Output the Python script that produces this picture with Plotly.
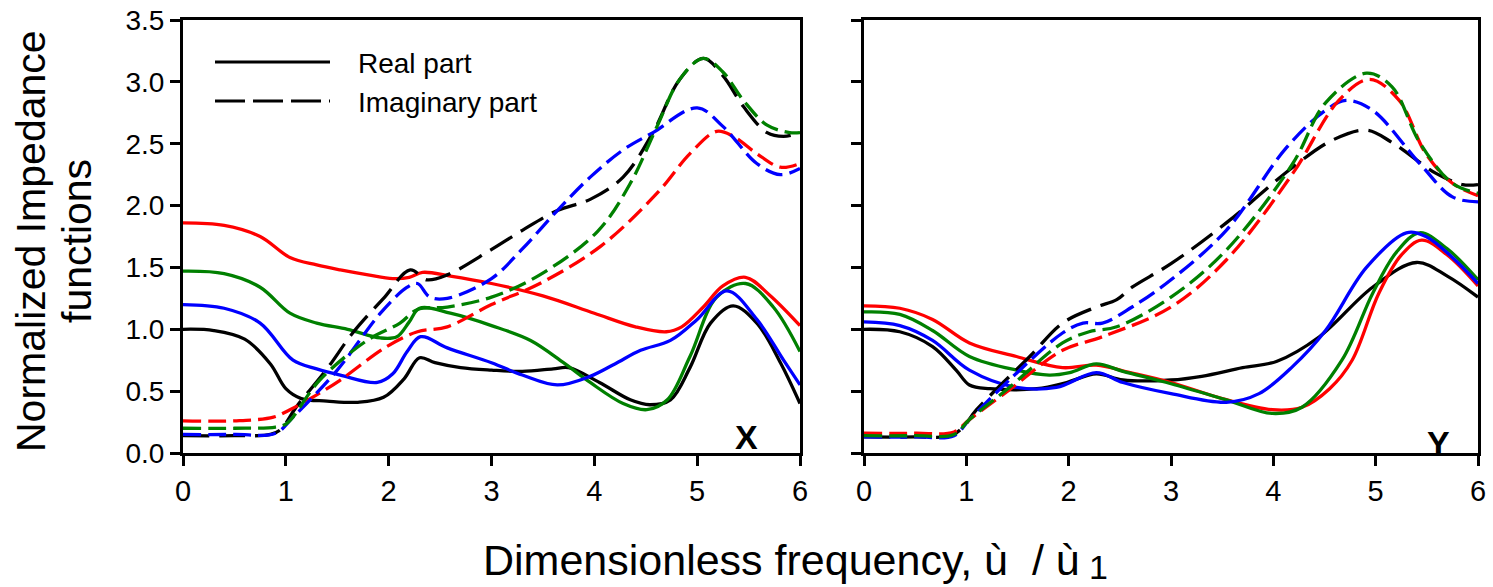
import plotly.graph_objects as go

# ---------------- data: panel X ----------------
x_real_black_X = [0, 0.3, 0.6, 0.85, 1.0, 1.15, 1.4, 1.7, 1.95, 2.15, 2.3, 2.45, 2.7, 3.0, 3.3, 3.6, 3.75, 4.05, 4.35, 4.54, 4.74, 4.93, 5.13, 5.35, 5.58, 5.81, 6.0]
y_real_black_X = [1.00, 0.99, 0.92, 0.72, 0.52, 0.44, 0.42, 0.41, 0.45, 0.60, 0.77, 0.73, 0.69, 0.67, 0.66, 0.68, 0.69, 0.57, 0.43, 0.39, 0.43, 0.69, 1.05, 1.19, 1.05, 0.73, 0.40]

x_real_red_X = [0, 0.4, 0.75, 1.04, 1.3, 1.53, 1.8, 2.04, 2.2, 2.33, 2.6, 3.0, 3.5, 4.0, 4.4, 4.7, 4.85, 5.06, 5.25, 5.47, 5.7, 6.0]
y_real_red_X = [1.86, 1.84, 1.75, 1.58, 1.52, 1.48, 1.44, 1.41, 1.42, 1.46, 1.43, 1.37, 1.27, 1.13, 1.02, 0.98, 1.02, 1.18, 1.35, 1.42, 1.28, 1.03]

x_real_green_X = [0, 0.4, 0.75, 1.04, 1.3, 1.6, 1.92, 2.08, 2.2, 2.3, 2.6, 3.0, 3.38, 3.7, 3.96, 4.28, 4.51, 4.71, 4.93, 5.19, 5.47, 5.74, 6.0]
y_real_green_X = [1.47, 1.45, 1.34, 1.13, 1.05, 1.00, 0.93, 0.94, 1.06, 1.17, 1.13, 1.03, 0.91, 0.73, 0.57, 0.40, 0.35, 0.43, 0.78, 1.26, 1.37, 1.18, 0.82]

x_real_blue_X = [0, 0.4, 0.75, 1.07, 1.3, 1.53, 1.89, 2.04, 2.18, 2.31, 2.57, 3.0, 3.3, 3.64, 3.96, 4.2, 4.45, 4.74, 5.0, 5.29, 5.58, 5.84, 6.0]
y_real_blue_X = [1.20, 1.17, 1.05, 0.75, 0.68, 0.63, 0.57, 0.64, 0.82, 0.94, 0.85, 0.73, 0.63, 0.55, 0.62, 0.72, 0.83, 0.91, 1.08, 1.31, 1.08, 0.75, 0.55]

x_imag_black_X = [0, 0.5, 0.85, 0.95, 1.1, 1.4, 1.65, 1.95, 2.21, 2.37, 2.57, 2.99, 3.3, 3.64, 3.96, 4.28, 4.57, 4.83, 5.06, 5.25, 5.45, 5.68, 5.84, 6.0]
y_imag_black_X = [0.14, 0.14, 0.15, 0.19, 0.37, 0.68, 0.97, 1.25, 1.48, 1.40, 1.44, 1.64, 1.80, 1.96, 2.05, 2.23, 2.59, 3.02, 3.19, 3.05, 2.80, 2.59, 2.56, 2.59]

x_imag_red_X = [0, 0.5, 0.88, 1.04, 1.3, 1.53, 1.98, 2.28, 2.57, 3.0, 3.47, 4.06, 4.61, 4.93, 5.19, 5.35, 5.58, 5.81, 6.0]
y_imag_red_X = [0.26, 0.26, 0.29, 0.35, 0.47, 0.59, 0.86, 0.98, 1.02, 1.20, 1.37, 1.67, 2.10, 2.42, 2.60, 2.56, 2.42, 2.31, 2.34]

x_imag_green_X = [0, 0.5, 0.9, 1.01, 1.33, 1.79, 2.11, 2.28, 2.57, 3.0, 3.47, 4.03, 4.35, 4.61, 4.83, 5.06, 5.25, 5.45, 5.68, 5.9, 6.0]
y_imag_green_X = [0.20, 0.20, 0.21, 0.24, 0.59, 0.91, 1.05, 1.16, 1.18, 1.26, 1.44, 1.79, 2.18, 2.64, 3.02, 3.19, 3.08, 2.85, 2.65, 2.59, 2.59]

x_imag_blue_X = [0, 0.5, 0.9, 1.07, 1.5, 1.92, 2.18, 2.28, 2.4, 2.57, 3.0, 3.3, 3.64, 3.96, 4.28, 4.57, 5.0, 5.25, 5.58, 5.81, 6.0]
y_imag_blue_X = [0.15, 0.15, 0.16, 0.29, 0.67, 1.13, 1.34, 1.37, 1.26, 1.25, 1.41, 1.65, 1.96, 2.23, 2.45, 2.59, 2.79, 2.64, 2.34, 2.25, 2.30]

# ---------------- data: panel Y ----------------
x_real_black_Y = [0, 0.35, 0.67, 0.9, 1.03, 1.23, 1.69, 1.98, 2.27, 2.53, 3.0, 3.3, 3.7, 4.03, 4.45, 4.97, 5.4, 5.7, 6.0]
y_real_black_Y = [1.00, 0.98, 0.86, 0.67, 0.55, 0.52, 0.52, 0.57, 0.64, 0.59, 0.59, 0.62, 0.69, 0.74, 0.94, 1.34, 1.54, 1.43, 1.26]

x_real_red_Y = [0, 0.35, 0.67, 1.03, 1.49, 1.94, 2.27, 2.6, 3.0, 3.5, 3.99, 4.28, 4.55, 4.77, 5.03, 5.25, 5.45, 5.7, 6.0]
y_real_red_Y = [1.19, 1.17, 1.08, 0.89, 0.78, 0.69, 0.71, 0.65, 0.57, 0.44, 0.35, 0.37, 0.52, 0.75, 1.29, 1.60, 1.72, 1.60, 1.35]

x_real_green_Y = [0, 0.35, 0.67, 1.03, 1.49, 1.81, 2.01, 2.27, 2.53, 3.0, 3.54, 3.99, 4.28, 4.67, 4.97, 5.2, 5.43, 5.7, 6.0]
y_real_green_Y = [1.14, 1.12, 0.99, 0.78, 0.67, 0.63, 0.65, 0.72, 0.66, 0.56, 0.43, 0.32, 0.37, 0.75, 1.29, 1.62, 1.78, 1.65, 1.40]

x_real_blue_Y = [0, 0.35, 0.67, 1.03, 1.49, 1.88, 2.27, 2.53, 3.0, 3.54, 3.86, 4.19, 4.51, 4.91, 5.3, 5.49, 5.75, 6.0]
y_real_blue_Y = [1.06, 1.03, 0.91, 0.67, 0.53, 0.53, 0.65, 0.57, 0.48, 0.41, 0.48, 0.70, 0.99, 1.50, 1.78, 1.75, 1.58, 1.37]

x_imag_black_Y = [0, 0.5, 0.85, 0.97, 1.1, 1.62, 1.94, 2.27, 2.47, 2.62, 3.0, 3.54, 4.19, 4.58, 4.91, 5.16, 5.59, 5.85, 6.0]
y_imag_black_Y = [0.13, 0.13, 0.14, 0.21, 0.35, 0.78, 1.05, 1.18, 1.24, 1.34, 1.53, 1.86, 2.31, 2.53, 2.61, 2.51, 2.26, 2.17, 2.17]

x_imag_red_Y = [0, 0.5, 0.88, 1.03, 1.42, 1.94, 2.33, 3.0, 3.54, 4.19, 4.64, 4.94, 5.23, 5.49, 5.75, 6.0]
y_imag_red_Y = [0.16, 0.16, 0.17, 0.27, 0.51, 0.83, 0.94, 1.18, 1.56, 2.26, 2.85, 3.02, 2.85, 2.42, 2.18, 2.08]

x_imag_green_Y = [0, 0.5, 0.88, 1.03, 1.42, 1.94, 2.2, 2.47, 3.0, 3.54, 4.19, 4.51, 4.91, 5.16, 5.43, 5.75, 6.0]
y_imag_green_Y = [0.14, 0.14, 0.15, 0.27, 0.53, 0.89, 0.98, 1.02, 1.26, 1.64, 2.34, 2.83, 3.07, 2.96, 2.51, 2.18, 2.10]

x_imag_blue_Y = [0, 0.5, 0.88, 1.03, 1.42, 1.94, 2.14, 2.33, 2.62, 3.0, 3.54, 4.13, 4.51, 4.71, 4.97, 5.43, 5.75, 6.0]
y_imag_blue_Y = [0.13, 0.13, 0.14, 0.27, 0.59, 0.97, 1.05, 1.05, 1.18, 1.40, 1.80, 2.47, 2.77, 2.85, 2.77, 2.34, 2.07, 2.03]

x_ticks = [0, 1, 2, 3, 4, 5, 6]
y_ticks = [0.0, 0.5, 1.0, 1.5, 2.0, 2.5, 3.0, 3.5]
legend_labels = ["Real part", "Imaginary part"]

COL = {"black": "#000000", "red": "#FF0000", "green": "#008000", "blue": "#0000FF"}
FONT = "Liberation Sans, Arial, sans-serif"

fig = go.Figure()

def add(xs, ys, color, dashed, ax):
    dash = "solid"
    if dashed:
        dash = "26px,10px" if color == "black" else "18px,7px"
    fig.add_trace(go.Scatter(
        x=xs, y=ys, mode="lines", showlegend=False,
        line=dict(color=COL[color], width=3.3, dash=dash, shape="spline", smoothing=1.0),
        xaxis="x" if ax == 1 else "x2", yaxis="y" if ax == 1 else "y2",
        hoverinfo="skip"))

# panel X
add(x_real_black_X, y_real_black_X, "black", False, 1)
add(x_real_red_X, y_real_red_X, "red", False, 1)
add(x_real_green_X, y_real_green_X, "green", False, 1)
add(x_real_blue_X, y_real_blue_X, "blue", False, 1)
add(x_imag_black_X, y_imag_black_X, "black", True, 1)
add(x_imag_red_X, y_imag_red_X, "red", True, 1)
add(x_imag_blue_X, y_imag_blue_X, "blue", True, 1)
add(x_imag_green_X, y_imag_green_X, "green", True, 1)
# panel Y
add(x_real_black_Y, y_real_black_Y, "black", False, 2)
add(x_real_red_Y, y_real_red_Y, "red", False, 2)
add(x_real_green_Y, y_real_green_Y, "green", False, 2)
add(x_real_blue_Y, y_real_blue_Y, "blue", False, 2)
add(x_imag_black_Y, y_imag_black_Y, "black", True, 2)
add(x_imag_blue_Y, y_imag_blue_Y, "blue", True, 2)
add(x_imag_red_Y, y_imag_red_Y, "red", True, 2)
add(x_imag_green_Y, y_imag_green_Y, "green", True, 2)

W, H = 1493, 587
def px_x(p): return p / W
def px_y(p): return 1 - p / H

xaxis_common = dict(range=[0, 6], tickvals=x_ticks, ticks="outside", ticklen=10, tickwidth=3,
                    tickcolor="black", showline=True, linewidth=3, linecolor="black", mirror=True,
                    showgrid=False, zeroline=False, tickfont=dict(family=FONT, size=29, color="black"),
                    automargin=False)
yaxis_common = dict(range=[0, 3.5], tickvals=y_ticks, tickformat=".1f", ticks="outside", ticklen=10,
                    tickwidth=3, tickcolor="black", showline=True, linewidth=3, linecolor="black",
                    mirror=True, showgrid=False, zeroline=False,
                    tickfont=dict(family=FONT, size=28, color="black"), automargin=False)

fig.update_layout(
    width=W, height=H,
    margin=dict(l=0, r=0, t=0, b=0),
    plot_bgcolor="white", paper_bgcolor="white",
    xaxis=dict(domain=[px_x(183), px_x(800)], anchor="y", **xaxis_common),
    yaxis=dict(domain=[px_y(453), px_y(20)], anchor="x", **yaxis_common),
    xaxis2=dict(domain=[px_x(864), px_x(1478)], anchor="y2", **xaxis_common),
    yaxis2=dict(domain=[px_y(453), px_y(20)], anchor="x2", showticklabels=False, **yaxis_common),
    showlegend=False,
)

# legend drawn inside panel X
fig.add_shape(type="line", xref="x domain", yref="y domain", x0=(215 - 183) / 617, x1=(330 - 183) / 617,
              y0=(453 - 62) / 433, y1=(453 - 62) / 433, line=dict(color="black", width=3))
fig.add_shape(type="line", xref="x domain", yref="y domain", x0=(215 - 183) / 617, x1=(330 - 183) / 617,
              y0=(453 - 101) / 433, y1=(453 - 101) / 433, line=dict(color="black", width=3, dash="30px,8px"))
for i, lab in enumerate(legend_labels):
    fig.add_annotation(xref="x domain", yref="y domain", x=(356 - 183) / 617, y=(453 - (63 + 39 * i)) / 433,
                       text=lab, showarrow=False, xanchor="left", yanchor="middle",
                       font=dict(family=FONT, size=28, color="black"))

# panel labels
fig.add_annotation(xref="paper", yref="paper", x=px_x(746), y=px_y(437), text="<b>X</b>", showarrow=False,
                   font=dict(family=FONT, size=34, color="black"), xanchor="center", yanchor="middle")
fig.add_annotation(xref="paper", yref="paper", x=px_x(1438), y=px_y(443), text="<b>Y</b>", showarrow=False,
                   font=dict(family=FONT, size=34, color="black"), xanchor="center", yanchor="middle")

# y title (two lines)
fig.add_annotation(xref="paper", yref="paper", x=px_x(31), y=px_y(241), text="Normalized Impedance",
                   textangle=-90, showarrow=False, xanchor="center", yanchor="middle",
                   font=dict(family=FONT, size=41, color="black"))
fig.add_annotation(xref="paper", yref="paper", x=px_x(77), y=px_y(241), text="functions",
                   textangle=-90, showarrow=False, xanchor="center", yanchor="middle",
                   font=dict(family=FONT, size=41, color="black"))

# x title
fig.add_annotation(xref="paper", yref="paper", x=px_x(1082), y=px_y(560), text="Dimensionless frequency, ù  / ù",
                   showarrow=False, xanchor="right", yanchor="middle",
                   font=dict(family=FONT, size=43, color="black"))
fig.add_annotation(xref="paper", yref="paper", x=px_x(1098), y=px_y(567), text="1",
                   showarrow=False, xanchor="center", yanchor="middle",
                   font=dict(family=FONT, size=34, color="black"))

fig.write_html("out.html")
